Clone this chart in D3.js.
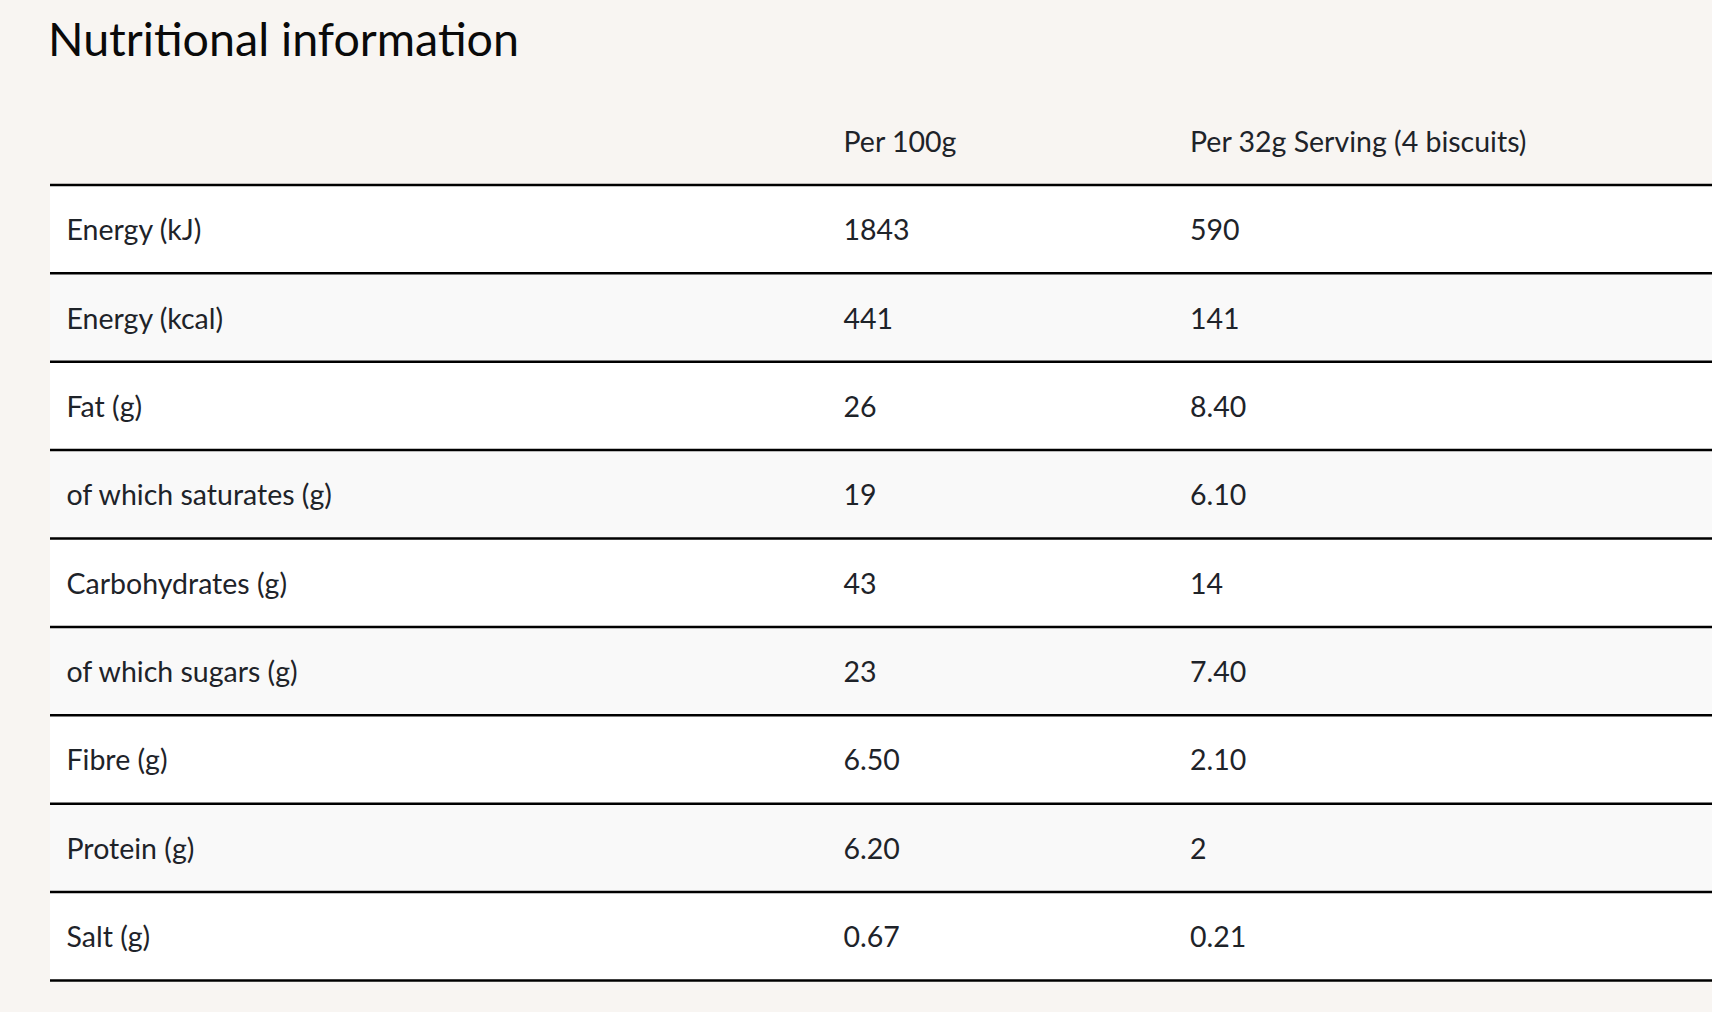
<!DOCTYPE html>
<html><head><meta charset="utf-8">
<script src="https://cdn.jsdelivr.net/npm/d3@7"></script>
<style>
html,body{margin:0;padding:0;background:#f8f5f2;}
svg{display:block;}
</style></head>
<body>
<script>
const title = "Nutritional information";
const columns = ["", "Per 100g", "Per 32g Serving (4 biscuits)"];
const nutrients = ["Energy (kJ)", "Energy (kcal)", "Fat (g)", "of which saturates (g)", "Carbohydrates (g)", "of which sugars (g)", "Fibre (g)", "Protein (g)", "Salt (g)"];
const per100g = ["1843", "441", "26", "19", "43", "23", "6.50", "6.20", "0.67"];
const perServing = ["590", "141", "8.40", "6.10", "14", "7.40", "2.10", "2", "0.21"];

const W = 1712, H = 1012;
const FONT = "Lato, 'Open Sans', sans-serif";
const svg = d3.select("body").append("svg").attr("width", W).attr("height", H);
svg.append("rect").attr("width", W).attr("height", H).attr("fill", "#f8f5f2");

const rowKeys = ["__header"].concat(nutrients);
const y = d3.scaleBand().domain(rowKeys).range([96.6, 980.4]).paddingInner(0).paddingOuter(0);
const x = d3.scaleOrdinal().domain([0, 1, 2]).range([66.5, 843.5, 1190]);
const tableLeft = 50, tableRight = W;

svg.append("text").attr("x", 48).attr("y", 55.5)
  .attr("font-family", FONT).attr("font-size", 46).attr("fill", "#0a0a0a")
  .attr("textLength", 471).attr("lengthAdjust", "spacingAndGlyphs")
  .text(title);

const rows = nutrients.map((n, i) => ({key: n, cells: [n, per100g[i], perServing[i]], i}));

const g = svg.append("g");
const rg = g.selectAll("g.row").data(rows).join("g").attr("class", "row");
rg.append("rect")
  .attr("x", tableLeft).attr("width", tableRight - tableLeft)
  .attr("y", d => y(d.key)).attr("height", y.bandwidth())
  .attr("fill", d => d.i % 2 === 0 ? "#ffffff" : "#f9f9f9");
rg.selectAll("text").data(d => d.cells.map((c, j) => ({c, j, key: d.key}))).join("text")
  .attr("x", d => x(d.j)).attr("y", d => y(d.key) + y.bandwidth() / 2 + 11)
  .attr("font-family", FONT).attr("font-size", 28.5).attr("fill", "#1e2329")
  .text(d => d.c);

// header
svg.selectAll("text.hdr").data(columns.map((c, j) => ({c, j}))).join("text")
  .attr("class", "hdr")
  .attr("x", d => x(d.j)).attr("y", y("__header") + y.bandwidth() / 2 + 11)
  .attr("font-family", FONT).attr("font-size", 28.5).attr("fill", "#1e2329")
  .text(d => d.c);

// lines under header and each row
svg.selectAll("line.sep").data(rowKeys).join("line").attr("class", "sep")
  .attr("x1", tableLeft).attr("x2", tableRight)
  .attr("y1", d => y(d) + y.bandwidth()).attr("y2", d => y(d) + y.bandwidth())
  .attr("stroke", "#000").attr("stroke-width", 2.5);
</script>
</body></html>
